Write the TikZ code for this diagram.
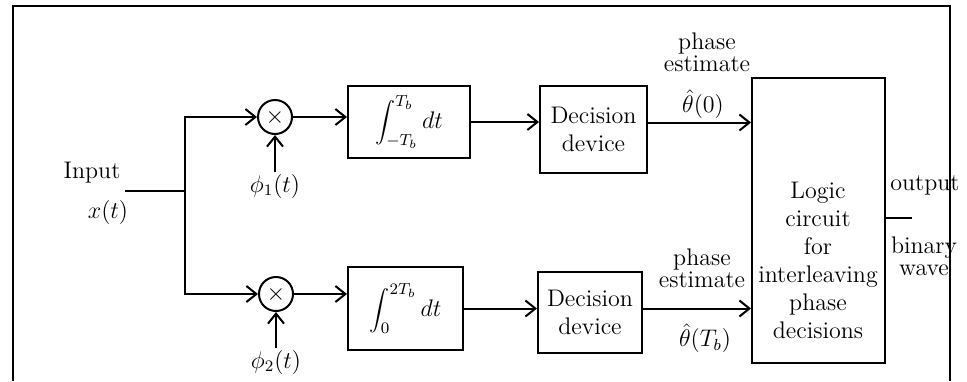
\documentclass[tikz,border=0pt]{standalone}
\usetikzlibrary{arrows.meta}

\begin{document}
\begin{tikzpicture}[
    x=0.5pt, y=-0.5pt,
    box/.style={
        rectangle,
        draw=black, line width=1pt,
        fill=white,
        font=\large,
        align=center,
        inner sep=2pt,
    },
    mixer/.style={
        circle, draw=black, line width=1pt,
        minimum size=17pt, inner sep=0pt,
        font=\large,
    },
    arrow/.style={
        -{Straight Barb[length=5pt, width=8pt]}, line width=1pt,
    },
    txt/.style={
        font=\large, align=center, inner sep=1pt,
    },
]
\useasboundingbox (0,0) rectangle (967,381);

% outer frame
\draw[line width=1.3pt] (13,381) -- (13,6) -- (950,6) -- (950,381);

% input and split
\node[txt] (inlbl) at (92,173) {Input};
\node[txt] (xlbl) at (108,212) {$x(t)$};
\coordinate (inp) at (125,191);
\coordinate (split) at (185,191);
\draw[line width=1pt] (inp) -- (split);

% multipliers
\node[mixer] (mixA) at (275,117) {$\times$};
\node[mixer] (mixB) at (276,294) {$\times$};
\node[txt] (phiA) at (275,186) {$\phi_1(t)$};
\node[txt] (phiB) at (276,362) {$\phi_2(t)$};

% integrators
\node[box, minimum width=61pt, minimum height=36pt] (intA) at (409,122)
    {$\displaystyle\int_{-T_b}^{T_b} dt$};
\node[box, minimum width=57.5pt, minimum height=41.5pt] (intB) at (405.5,308.5)
    {$\displaystyle\int_{0}^{2T_b} dt$};

% decision devices
\node[box, minimum width=53.5pt, minimum height=43.5pt] (decA) at (593.5,129.5) {Decision\\device};
\node[box, minimum width=52pt, minimum height=40.5pt] (decB) at (590,312.5) {Decision\\device};

% logic circuit
\node[box, minimum width=66.5pt, minimum height=142.5pt] (logic) at (818.5,220.5) {};
\node[txt] (logictxt) at (818,260) {Logic\\circuit\\for\\interleaving\\phase\\decisions};

% connections
\draw[arrow] (split) |- (mixA.west);
\draw[arrow] (split) |- (mixB.west);
\draw[arrow] (phiA.north) -- (mixA.south);
\draw[arrow] (phiB.north) -- (mixB.south);
\draw[arrow] (mixA.east) -- (intA.west |- mixA.east);
\draw[arrow] (mixB.east) -- (intB.west |- mixB.east);
\draw[arrow] (intA.east) -- (decA.west |- intA.east);
\draw[arrow] (intB.east) -- (decB.west |- intB.east);
\draw[arrow] ([yshift=3.5pt]decA.east) -- ([yshift=3.5pt]logic.west |- decA.east);
\draw[arrow] ([yshift=2pt]decB.east) -- ([yshift=2pt]logic.west |- decB.east);

% phase estimate labels
\node[txt] (estA) at (707,52) {phase\\[-3pt]estimate};
\node[txt] (thA) at (703,104) {$\hat\theta(0)$};
\node[txt] (estB) at (702,268) {phase\\[-3pt]estimate};
\node[txt] (thB) at (705,338) {$\hat\theta(T_b)$};

% output
\coordinate (out) at (912,218);
\draw[line width=1pt] (logic.east |- out) -- (out);
\node[txt] (outlbl) at (925,185) {output};
\node[txt] (wavelbl) at (924,256) {binary\\[-3pt]wave};

\end{tikzpicture}
\end{document}
